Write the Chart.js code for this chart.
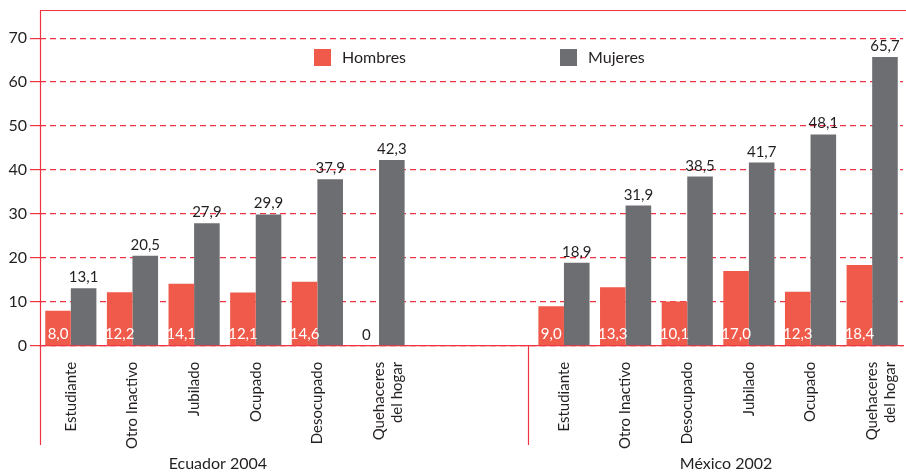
<!DOCTYPE html>
<html>
<head>
<meta charset="utf-8">
<script src="https://cdn.jsdelivr.net/npm/chart.js@4/dist/chart.umd.min.js"></script>
<style>
  html, body { margin: 0; padding: 0; background: #fff; }
  #wrap { width: 906px; height: 472px; position: relative; }
</style>
</head>
<body>
<div id="wrap"><canvas id="chart"></canvas></div>
<script>
// categories (two empty slots separate the countries)
const categories = [
  "Estudiante", "Otro Inactivo", "Jubilado", "Ocupado", "Desocupado", ["Quehaceres", "del hogar"],
  "", "",
  "Estudiante", "Otro Inactivo", "Desocupado", "Jubilado", "Ocupado", ["Quehaceres", "del hogar"]
];
const hombres = [8.0, 12.2, 14.1, 12.1, 14.6, 0, null, null, 9.0, 13.3, 10.1, 17.0, 12.3, 18.4];
const mujeres = [13.1, 20.5, 27.9, 29.9, 37.9, 42.3, null, null, 18.9, 31.9, 38.5, 41.7, 48.1, 65.7];
const yTicks = [0, 10, 20, 30, 40, 50, 60, 70];
const groups = [
  { label: "Ecuador 2004", from: 0, to: 5 },
  { label: "México 2002", from: 8, to: 13 }
];

const RED = "#ee3342";
const DARK = "#231f20";
const FONT = "Lato, 'Open Sans', sans-serif";

function fmt(v) {
  return v === 0 ? "0" : v.toFixed(1).replace(".", ",");
}

// value labels, frame lines, group labels and legend
const extras = {
  id: "extras",
  afterDatasetsDraw(chart) {
    const ctx = chart.ctx;
    ctx.save();
    ctx.font = "15px " + FONT;
    ctx.textAlign = "center";
    ctx.textBaseline = "alphabetic";
    chart.getDatasetMeta(0).data.forEach((bar, i) => {
      const v = hombres[i];
      if (v === null) return;
      ctx.fillStyle = v === 0 ? DARK : "#fff";
      ctx.fillText(fmt(v), bar.x, bar.base - 6);
    });
    chart.getDatasetMeta(1).data.forEach((bar, i) => {
      const v = mujeres[i];
      if (v === null) return;
      ctx.fillStyle = DARK;
      ctx.fillText(fmt(v), bar.x, bar.y - 6);
    });
    ctx.restore();
  },
  afterDraw(chart) {
    const ctx = chart.ctx;
    const a = chart.chartArea;
    const x = chart.scales.x;
    ctx.save();
    ctx.strokeStyle = RED;
    ctx.lineWidth = 1.2;
    ctx.beginPath();
    // top border
    ctx.moveTo(a.left, a.top + 0.5);
    ctx.lineTo(chart.width, a.top + 0.5);
    // left border down to the bottom
    ctx.moveTo(a.left + 0.5, a.top);
    ctx.lineTo(a.left + 0.5, 445);
    // divider between countries
    const dx = Math.round((x.getPixelForValue(7) + x.getPixelForValue(8)) / 2) - 4.5;
    ctx.moveTo(dx, a.bottom);
    ctx.lineTo(dx, 445);
    ctx.stroke();

    // group labels
    ctx.fillStyle = DARK;
    ctx.font = "16px " + FONT;
    ctx.textAlign = "center";
    ctx.textBaseline = "middle";
    const shift = [-7, 8];
    groups.forEach((g, i) => {
      const cx = (x.getPixelForValue(g.from) + x.getPixelForValue(g.to)) / 2;
      ctx.fillText(g.label, cx + shift[i], 464);
    });

    // legend
    ctx.textAlign = "left";
    const legendX = [314, 560];
    chart.data.datasets.forEach((ds, i) => {
      ctx.fillStyle = ds.backgroundColor;
      ctx.fillRect(legendX[i], 49, 17, 17);
      ctx.fillStyle = DARK;
      ctx.fillText(ds.label, legendX[i] + 28, 58);
    });
    ctx.restore();
  }
};

new Chart(document.getElementById("chart"), {
  type: "bar",
  data: {
    labels: categories,
    datasets: [
      { label: "Hombres", data: hombres, backgroundColor: "#ef5a4b" },
      { label: "Mujeres", data: mujeres, backgroundColor: "#6d6e71" }
    ]
  },
  options: {
    responsive: true,
    maintainAspectRatio: false,
    animation: false,
    layout: { padding: { top: 10, right: 3, bottom: 15, left: 0 } },
    datasets: { bar: { categoryPercentage: 0.83, barPercentage: 1.0 } },
    plugins: {
      legend: { display: false },
      tooltip: { enabled: false }
    },
    scales: {
      x: {
        afterFit: scale => { scale.paddingLeft = 0; scale.paddingRight = 0; },
        grid: { display: false },
        border: { display: true, color: RED, width: 1.2 },
        ticks: {
          color: DARK,
          font: { family: FONT, size: 15 },
          maxRotation: 90,
          minRotation: 90,
          padding: 8,
          autoSkip: false
        }
      },
      y: {
        min: 0,
        max: 76.4,
        afterBuildTicks: scale => {
          scale.ticks = yTicks.map(v => ({ value: v }));
        },
        afterFit: scale => {
          scale.width = 40;
          scale.paddingTop = 0;
          scale.paddingBottom = 0;
        },
        border: { display: false, dash: [6, 4] },
        grid: {
          color: RED,
          lineWidth: 1.2,
          tickColor: RED,
          tickLength: 10,
          tickBorderDash: [],
          drawTicks: true
        },
        ticks: {
          color: DARK,
          font: { family: FONT, size: 16 },
          padding: 3
        }
      }
    }
  },
  plugins: [extras]
});
</script>
</body>
</html>
